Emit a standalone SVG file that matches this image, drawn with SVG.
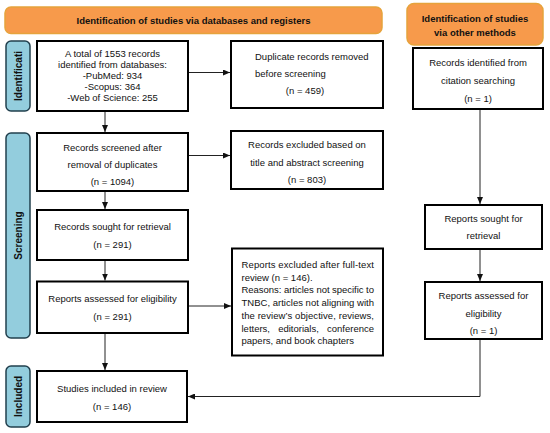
<svg xmlns="http://www.w3.org/2000/svg" width="550" height="433" viewBox="0 0 550 433">
<defs>
<style>
.bg{fill:#ffffff}
.banner{fill:#F79A4B;stroke:#E6A33C;stroke-width:1.5}
.side{fill:#93CDDD;stroke:#22404E;stroke-width:1.5}
.box{fill:#ffffff;stroke:#000000;stroke-width:2}
.t{font-family:"Liberation Sans",Arial,sans-serif;font-size:9.5px;fill:#111111}
.c{text-anchor:middle}
.b{font-family:"Liberation Sans",Arial,sans-serif;font-weight:bold;font-size:9.5px;fill:#111111;text-anchor:middle}
.s{font-family:"Liberation Sans",Arial,sans-serif;font-weight:bold;font-size:10px;fill:#111111;text-anchor:middle}
.ln{fill:none;stroke:#222222;stroke-width:1}
</style>
<marker id="ah" markerUnits="userSpaceOnUse" markerWidth="7" markerHeight="6" refX="7" refY="3" orient="auto">
<path d="M0,0 L7,3 L0,6 z" fill="#111111"/>
</marker>
</defs>
<rect class="bg" x="0" y="0" width="550" height="433"/>

<g id="banner-databases">
<rect class="banner" x="5" y="7" width="377" height="26.5" rx="6"/>
<text class="b" x="193.5" y="23.8">Identification of studies via databases and registers</text>
</g>
<g id="banner-other">
<rect class="banner" x="407" y="3.5" width="136" height="41.5" rx="7"/>
<text class="b" x="475" y="22.4">Identification of studies</text>
<text class="b" x="475" y="36.4">via other methods</text>
</g>

<g id="label-identification">
<rect class="side" x="6" y="41" width="24" height="70" rx="5"/>
<text class="s" transform="translate(21.5,76) rotate(-90)">Identificati</text>
</g>
<g id="label-screening">
<rect class="side" x="6" y="133" width="24" height="205" rx="5"/>
<text class="s" transform="translate(21.5,235.5) rotate(-90)">Screening</text>
</g>
<g id="label-included">
<rect class="side" x="6" y="366" width="24" height="61" rx="5"/>
<text class="s" transform="translate(21.5,396.5) rotate(-90)">Included</text>
</g>

<g id="node-identified">
<rect class="box" x="37" y="41" width="151" height="70"/>
<text class="t c" x="112.5" y="57">A total of 1553 records</text>
<text class="t c" x="112.5" y="68">identified from databases:</text>
<text class="t c" x="112.5" y="79">-PubMed: 934</text>
<text class="t c" x="112.5" y="90">-Scopus: 364</text>
<text class="t c" x="112.5" y="101">-Web of Science: 255</text>
</g>
<g id="node-duplicates">
<rect class="box" x="231" y="41" width="152" height="67"/>
<text class="t" x="255" y="60">Duplicate records removed</text>
<text class="t" x="255" y="77.4">before screening</text>
<text class="t c" x="305" y="94.4">(n = 459)</text>
</g>
<g id="node-citation">
<rect class="box" x="413" y="48" width="130" height="61"/>
<text class="t c" x="478" y="66">Records identified from</text>
<text class="t c" x="478" y="83.7">citation searching</text>
<text class="t c" x="478" y="101.7">(n = 1)</text>
</g>
<g id="node-screened">
<rect class="box" x="37" y="133" width="151" height="58"/>
<text class="t c" x="112.5" y="151.4">Records screened after</text>
<text class="t c" x="112.5" y="168.4">removal of duplicates</text>
<text class="t c" x="112.5" y="185.4">(n = 1094)</text>
</g>
<g id="node-excluded-title">
<rect class="box" x="231" y="131" width="152" height="58"/>
<text class="t c" x="307" y="148.4">Records excluded based on</text>
<text class="t c" x="307" y="165.7">title and abstract screening</text>
<text class="t c" x="307" y="183.4">(n = 803)</text>
</g>
<g id="node-sought">
<rect class="box" x="37" y="210" width="151" height="50"/>
<text class="t c" x="112.5" y="230.4">Records sought for retrieval</text>
<text class="t c" x="112.5" y="247.7">(n = 291)</text>
</g>
<g id="node-sought-other">
<rect class="box" x="425" y="205" width="117" height="44"/>
<text class="t c" x="483.5" y="222.4">Reports sought for</text>
<text class="t c" x="483.5" y="239.4">retrieval</text>
</g>
<g id="node-excluded-fulltext">
<rect class="box" x="232" y="248.5" width="151" height="107"/>
<text class="t" x="241.5" y="267.9" textLength="132.5" lengthAdjust="spacing">Reports excluded after full-text</text>
<text class="t" x="241.5" y="280.6">review (n = 146).</text>
<text class="t" x="241.5" y="293.4" textLength="132.5" lengthAdjust="spacing">Reasons: articles not specific to</text>
<text class="t" x="241.5" y="306.1" textLength="132.5" lengthAdjust="spacing">TNBC, articles not aligning with</text>
<text class="t" x="241.5" y="318.9" textLength="132.5" lengthAdjust="spacing">the review’s objective, reviews,</text>
<text class="t" y="331.6"><tspan x="241.5">letters,</tspan><tspan x="278.2">editorials,</tspan><tspan x="374" text-anchor="end">conference</tspan></text>
<text class="t" x="241.5" y="344.4">papers, and book chapters</text>
</g>
<g id="node-assessed">
<rect class="box" x="37" y="281.5" width="151" height="51.5"/>
<text class="t c" x="112.5" y="302.4">Reports assessed for eligibility</text>
<text class="t c" x="112.5" y="320">(n = 291)</text>
</g>
<g id="node-assessed-other">
<rect class="box" x="425" y="282" width="117" height="57"/>
<text class="t c" x="483.5" y="299">Reports assessed for</text>
<text class="t c" x="483.5" y="316.7">eligibility</text>
<text class="t c" x="483.5" y="334.4">(n = 1)</text>
</g>
<g id="node-included">
<rect class="box" x="37" y="371" width="150" height="51"/>
<text class="t c" x="112" y="391.7">Studies included in review</text>
<text class="t c" x="112" y="410">(n = 146)</text>
</g>

<g id="connectors">
<line class="ln" x1="189" y1="72.5" x2="230" y2="72.5" marker-end="url(#ah)"/>
<line class="ln" x1="105" y1="112" x2="105" y2="132" marker-end="url(#ah)"/>
<line class="ln" x1="189" y1="155.5" x2="230" y2="155.5" marker-end="url(#ah)"/>
<line class="ln" x1="105" y1="192" x2="105" y2="209" marker-end="url(#ah)"/>
<line class="ln" x1="105" y1="261" x2="105" y2="280.5" marker-end="url(#ah)"/>
<line class="ln" x1="189" y1="306" x2="231" y2="306" marker-end="url(#ah)"/>
<line class="ln" x1="105" y1="334" x2="105" y2="370" marker-end="url(#ah)"/>
<line class="ln" x1="480" y1="110" x2="480" y2="204" marker-end="url(#ah)"/>
<line class="ln" x1="480" y1="250" x2="480" y2="281" marker-end="url(#ah)"/>
<polyline class="ln" points="480,340 480,396.5 188,396.5" marker-end="url(#ah)"/>
</g>
</svg>
